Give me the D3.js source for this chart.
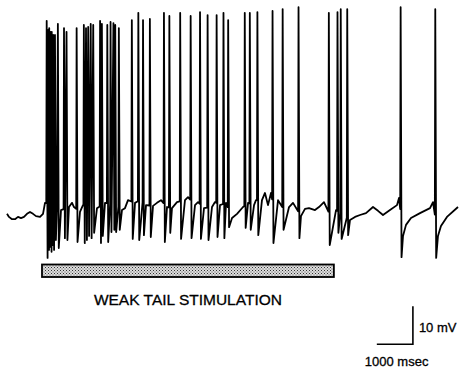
<!DOCTYPE html>
<html>
<head>
<meta charset="utf-8">
<script src="https://cdn.jsdelivr.net/npm/d3@7"></script>
<style>
  body { margin: 0; background: #fff; }
  text { font-family: "Liberation Sans", Arial, Helvetica, sans-serif; fill: #000; stroke: #000; stroke-width: 0.3px; }
</style>
</head>
<body>
<div id="chart"></div>
<script>
var width = 460,
    height = 370;

// spikes: [time ms, peak mV, trough mV]
var spikes = [
  [1100, 1.1, -61.3], [1140, -1.3, -59.2], [1170, -0.8, -58.4], [1210, -1.8, -59.7],
  [1240, -1.8, -57.9], [1280, -2.6, -59.2], [1330, -2.6, -56.6], [1410, 0.3, -58.7],
  [1580, -0.8, -56.1], [1650, -1.8, -56.6], [1930, -0.8, -57.1], [2130, 0.0, -57.4],
  [2190, -0.8, -56.6], [2250, -0.5, -55.5], [2320, 0.3, -56.1], [2390, 0.0, -54.7],
  [2580, 1.1, -57.4], [2630, 0.3, -55.5], [2780, 0.0, -57.1], [2870, 0.8, -54.5],
  [2950, 0.5, -53.9], [3000, 0.0, -54.5], [3100, -0.8, -53.9], [3460, 1.3, -56.3],
  [3640, 3.2, -56.6], [3770, 1.3, -55.3], [3960, 1.6, -55.8], [4350, 3.2, -57.1],
  [4500, 2.4, -54.7], [4800, 3.2, -56.3], [5090, 2.4, -56.1], [5350, 3.4, -56.3],
  [5560, 2.6, -56.6], [5810, 2.6, -55.8], [6000, 3.2, -56.1], [6130, 1.3, -53.2],
  [6590, 3.2, -53.4], [6730, 3.2, -53.9], [6940, 3.4, -55.3], [7360, 3.7, -57.4],
  [7640, 4.2, -53.9], [8080, 4.7, -56.1], [8920, 3.2, -57.9], [9160, 3.4, -54.7],
  [9250, 4.2, -56.3], [9430, 4.2, -55.3], [10910, 4.7, -61.1], [11870, 4.2, -61.3]
];

// subthreshold membrane potential between spikes
var baseT = [0, 55, 139, 222, 305, 388, 471, 554, 637, 721, 804, 915, 998, 1053,
  1386, 1497, 1718, 1802, 1857, 2023, 2106, 2494, 2716, 3049, 3187, 3270, 3354,
  3548, 3686, 3853, 4047, 4157, 4268, 4435, 4573, 4712, 4933, 5017, 5211, 5294,
  5460, 5682, 5765, 5904, 6071, 6237, 6376, 6542, 6681, 6847, 6901, 7067, 7150,
  7234, 7317, 7401, 7512, 7678, 7817, 7927, 8148, 8259, 8370, 8536, 8647, 8785,
  8952, 9119, 9507, 9645, 9784, 9950, 10144, 10283, 10421, 10615, 10809, 10865,
  10976, 11059, 11197, 11447, 11724, 11807, 11945, 12028, 12194, 12500];
var baseV = [-49.7, -50.5, -51.1, -51.1, -50.5, -50.8, -50.5, -49.7, -49.2, -49.7, -50.3, -50.5, -49.7, -46.8,
  -47.4, -48.7, -47.9, -46.8, -47.9, -49.2, -47.4, -48.2, -46.8, -47.4, -48.7, -48.2, -46.1,
  -46.8, -46.1, -47.4, -47.6, -46.8, -46.1, -47.9, -48.2, -46.6, -46.1, -45.3, -47.4, -46.6,
  -48.2, -47.9, -46.6, -47.4, -46.8, -50.8, -49.7, -47.9, -46.8, -47.4, -46.1, -46.1, -44.2,
  -47.4, -44.2, -48.7, -46.1, -48.7, -47.9, -46.8, -50.3, -48.4, -48.2, -48.7, -47.9, -46.6,
  -50.0, -48.7, -51.3, -50.5, -50.0, -49.5, -47.9, -48.9, -50.0, -48.7, -47.4, -45.5,
  -55.5, -52.6, -50.8, -49.5, -48.2, -46.6, -55.5, -52.9, -50.5, -47.9];

var stimulus = [970, 9060];           // ms
var stimLabel = "WEAK TAIL STIMULATION";
var scaleBar = { t: 11250, v: -84, dt: 1000, dv: 10 };
var scaleLabels = ["10 mV", "1000 msec"];

var svg = d3.select("#chart").append("svg")
    .attr("width", width).attr("height", height);

var x = d3.scaleLinear().domain([0, 12500]).range([7, 458]);
var y = d3.scaleLinear().domain([-65, 5]).range([272, 6]);
var base = d3.scaleLinear().domain(baseT).range(baseV);

// build trace: baseline knots with spikes inserted
var pts = [], bi = 0, prev = -1e9;
spikes.forEach(function(s) {
  var t = s[0];
  while (bi < baseT.length && baseT[bi] < t - 12) {
    if (baseT[bi] > prev + 30) pts.push([baseT[bi], baseV[bi]]);
    bi++;
  }
  if (t - prev > 60) pts.push([t - 12, base(t - 12)]);
  pts.push([t, s[1]]);
  pts.push([t + 25, s[2]]);
  prev = t + 25;
});
for (; bi < baseT.length; bi++) {
  if (baseT[bi] > prev + 30) pts.push([baseT[bi], baseV[bi]]);
}

var line = d3.line()
  .x(function(d) { return x(d[0]); })
  .y(function(d) { return y(d[1]); });

svg.append("path")
  .datum(pts)
  .attr("d", line)
  .attr("fill", "none")
  .attr("stroke", "#000")
  .attr("stroke-width", 1.8)
  .attr("stroke-linejoin", "round");

// stipple pattern for stimulus bar
var pat = svg.append("defs").append("pattern")
  .attr("id", "stipple")
  .attr("patternUnits", "userSpaceOnUse")
  .attr("width", 3).attr("height", 3);
pat.append("rect").attr("width", 3).attr("height", 3).attr("fill", "#ddd");
pat.append("rect").attr("x", 0).attr("y", 0).attr("width", 1).attr("height", 1).attr("fill", "#333");
pat.append("rect").attr("x", 1.5).attr("y", 1.5).attr("width", 1).attr("height", 1).attr("fill", "#555");

svg.append("rect")
  .attr("x", x(stimulus[0]))
  .attr("y", 264.5)
  .attr("width", x(stimulus[1]) - x(stimulus[0]))
  .attr("height", 12.5)
  .attr("fill", "url(#stipple)")
  .attr("stroke", "#000")
  .attr("stroke-width", 1.8);

svg.append("text")
  .attr("x", (x(stimulus[0]) + x(stimulus[1])) / 2)
  .attr("y", 305)
  .attr("text-anchor", "middle")
  .style("font-size", "15.5px")
  .text(stimLabel);

// calibration bars
var cx = x(scaleBar.t), cy = y(scaleBar.v);
svg.append("path")
  .attr("d", "M" + x(scaleBar.t - scaleBar.dt) + "," + cy + "H" + cx + "V" + y(scaleBar.v + scaleBar.dv))
  .attr("fill", "none")
  .attr("stroke", "#000")
  .attr("stroke-width", 1.6);

svg.append("text")
  .attr("x", cx + 6)
  .attr("y", cy - 12)
  .style("font-size", "13px")
  .text(scaleLabels[0]);

svg.append("text")
  .attr("x", x(scaleBar.t - scaleBar.dt) - 12)
  .attr("y", cy + 22)
  .style("font-size", "13px")
  .text(scaleLabels[1]);
</script>
</body>
</html>
